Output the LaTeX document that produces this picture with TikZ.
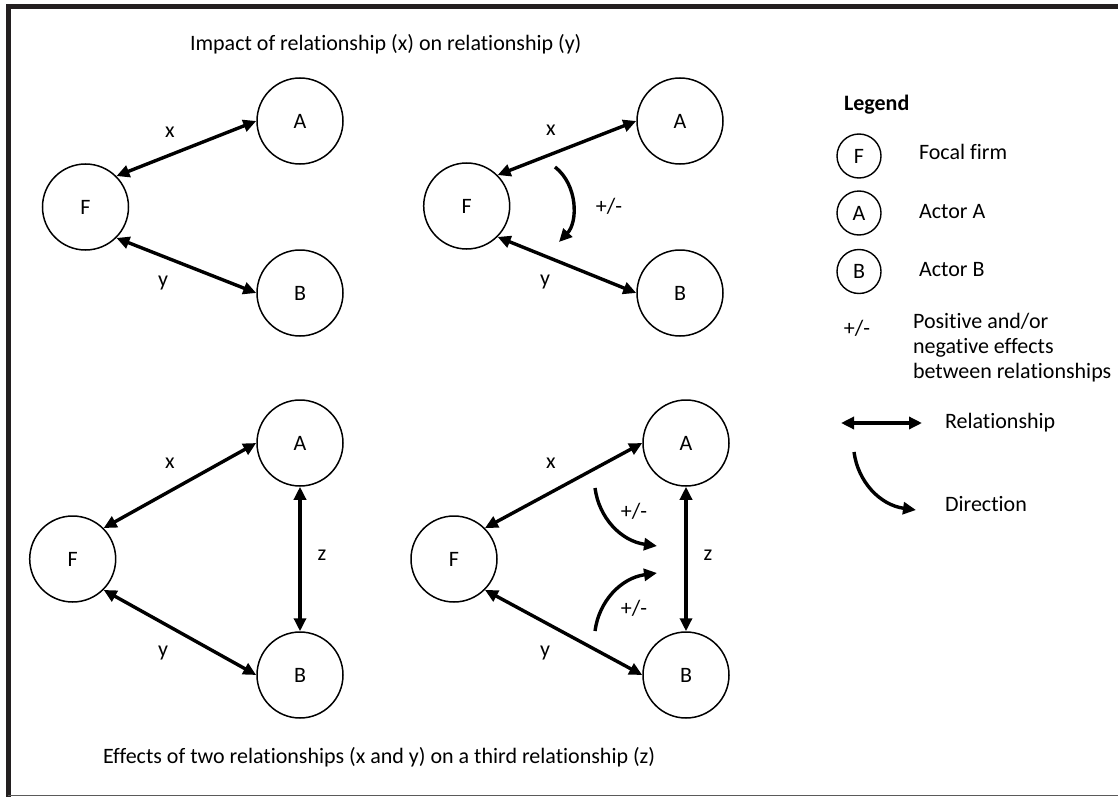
\documentclass[tikz,border=0pt]{standalone}
\usepackage{fontspec}
\setmainfont{Carlito}[Ligatures=NoCommon]
\usetikzlibrary{arrows.meta}
\definecolor{framedark}{HTML}{231F20}
\definecolor{framegray}{HTML}{5A5A5A}

\begin{document}
\begin{tikzpicture}[x=0.5pt, y=-0.5pt,
		font=\fontsize{11}{12.5}\selectfont,
		actor/.style={draw, circle, line width=0.75pt, minimum size=43pt, inner sep=0pt},
		legactor/.style={draw, circle, line width=0.7pt, minimum size=22pt, inner sep=0pt},
		rel/.style={line width=1.7pt, {Triangle[length=6.5pt,width=6pt]}-{Triangle[length=6.5pt,width=6pt]}},
		dir/.style={line width=1.7pt, -{Triangle[length=6.5pt,width=6pt]}}]
		\useasboundingbox (0,0) rectangle (1118,797);
		\draw[framedark, line width=2.8pt] (8.3,797) -- (8.3,6.5) -- (1118,6.5);
		\draw[framegray, line width=0.6pt] (8.3,795.5) -- (1118,795.5);
		
		\node[anchor=west] (top) at (183,44) {Impact of relationship (x) on relationship (y)};
		\node[anchor=west] (bottom) at (96,757) {Effects of two relationships (x and y) on a third relationship (z)};
		
		% x -> y, simple
		\node[actor] (F1) at (85.5,207) {F};
		\node[actor] (A1) at (300,121) {A};
		\node[actor] (B1) at (300,293) {B};
		\draw[rel] (F1.45) -- (A1.west);
		\draw[rel] (F1.-45) -- (B1.west);
		\node (x1) at (170,132) {x};
		\node (y1) at (163,283) {y};
		
		% x -> y, with effect
		\node[actor] (F2) at (466.7,206) {F};
		\node[actor] (A2) at (680,121) {A};
		\node[actor] (B2) at (680,293) {B};
		\draw[rel] (F2.45) -- (A2.west);
		\draw[rel] (F2.-45) -- (B2.west);
		\node (x2) at (551,130) {x};
		\node (y2) at (545,282) {y};
		\coordinate (e2s) at (555,167);
		\coordinate (e2e) at (559,242);
		\draw[dir] (e2s) .. controls (578,185) and (578,222) .. (e2e);
		\node (pm2) at (609,206) {+/-};
		
		% x, y -> z, simple
		\node[actor] (F3) at (72.7,559) {F};
		\node[actor] (A3) at (300,443) {A};
		\node[actor] (B3) at (300,675) {B};
		\draw[rel] (F3.45) -- (A3.west);
		\draw[rel] (F3.-45) -- (B3.west);
		\draw[rel] (A3.south) -- (B3.north);
		\node (x3) at (170,463) {x};
		\node (y3) at (163,653) {y};
		\node (z3) at (322,555) {z};
		
		% x, y -> z, with effects
		\node[actor] (F4) at (454,559) {F};
		\node[actor] (A4) at (686,443) {A};
		\node[actor] (B4) at (686,675) {B};
		\draw[rel] (F4.45) -- (A4.west);
		\draw[rel] (F4.-45) -- (B4.west);
		\draw[rel] (A4.south) -- (B4.north);
		\node (x4) at (551,463) {x};
		\node (y4) at (545,653) {y};
		\node (z4) at (708,555) {z};
		\coordinate (e4as) at (595,488);
		\coordinate (e4ae) at (657,546);
		\coordinate (e4bs) at (595,631);
		\coordinate (e4be) at (657,573);
		\draw[dir] (e4as) .. controls (599,518) and (621,541) .. (e4ae);
		\draw[dir] (e4bs) .. controls (599,601) and (621,578) .. (e4be);
		\node (pm4a) at (634,511) {+/-};
		\node (pm4b) at (634,608) {+/-};
		
		% legend
		\node[anchor=west, font=\fontsize{11}{12.5}\selectfont\bfseries] (leg) at (837,105) {Legend};
		\node[legactor] (lF) at (859,156) {F};
		\node[legactor] (lA) at (859,213) {A};
		\node[legactor] (lB) at (859,271.5) {B};
		\node[anchor=west] (tF) at (912,152) {Focal firm};
		\node[anchor=west] (tA) at (912,212) {Actor A};
		\node[anchor=west] (tB) at (912,270) {Actor B};
		\node (lpm) at (857,328) {+/-};
		\node[anchor=west, align=left] (tpm) at (906,348) {Positive and/or\\negative effects\\between relationships};
		\coordinate (lrs) at (841,423);
		\coordinate (lre) at (922,423);
		\draw[rel] (lrs) -- (lre);
		\node[anchor=west] (trel) at (938,423) {Relationship};
		\coordinate (lds) at (854,452);
		\coordinate (lde) at (916,510);
		\draw[dir] (lds) .. controls (858,482) and (880,505) .. (lde);
		\node[anchor=west] (tdir) at (938,504) {Direction};
	\end{tikzpicture}
\end{document}
